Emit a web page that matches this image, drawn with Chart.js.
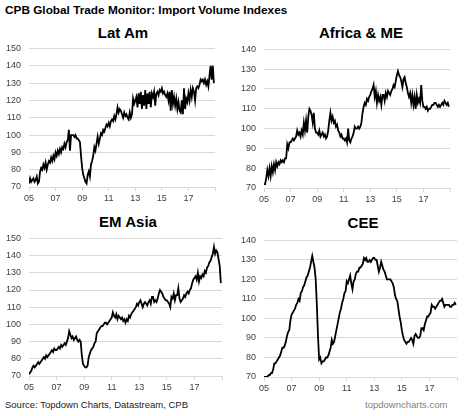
<!DOCTYPE html>
<html>
<head>
<meta charset="utf-8">
<script src="https://cdn.jsdelivr.net/npm/chart.js@4.4.0/dist/chart.umd.min.js"></script>
<style>
  body { margin: 0; background: #fff; font-family: "Liberation Sans", Arial, sans-serif; }
  #wrap { position: relative; width: 470px; height: 416px; overflow: hidden; background: #fff; }
  .box { position: absolute; }
  .ttl { position: absolute; width: 200px; text-align: center; font-weight: bold; font-size: 15px; line-height: 15px; color: #000; }
  #main { position: absolute; left: 5px; top: 4px; font-weight: bold; font-size: 11.8px; line-height: 12px; color: #000; white-space: nowrap; }
  .foot { position: absolute; top: 400px; font-size: 9.5px; line-height: 10px; white-space: nowrap; }
</style>
</head>
<body>
<div id="wrap">
  <div id="main">CPB Global Trade Monitor: Import Volume Indexes</div>

  <div class="ttl" style="left:23px; top:25px;">Lat Am</div>
  <div class="ttl" style="left:261px; top:25px;">Africa &amp; ME</div>
  <div class="ttl" style="left:28px; top:214px;">EM Asia</div>
  <div class="ttl" style="left:263px; top:215px;">CEE</div>

  <div class="box" style="left:0px; top:35px; width:225px; height:172px;"><canvas id="latAmChart"></canvas></div>
  <div class="box" style="left:235px; top:36px; width:225px; height:172px;"><canvas id="africaChart"></canvas></div>
  <div class="box" style="left:0px; top:225px; width:232px; height:171px;"><canvas id="asiaChart"></canvas></div>
  <div class="box" style="left:235px; top:227px; width:232px; height:170px;"><canvas id="ceeChart"></canvas></div>

  <div class="foot" style="left:5px; color:#222;">Source: Topdown Charts, Datastream, CPB</div>
  <div class="foot" style="left:365px; color:#7f7f7f;">topdowncharts.com</div>
</div>

<script>
// monthly data, Jan 2005 - Dec 2018
const startYear = 2005;
const xTickLabels = ["05", "07", "09", "11", "13", "15", "17", ""];

const latAm = [
  72, 75, 73, 74, 75, 73, 74, 76, 72, 73, 79, 81,
  80, 83, 81, 84, 80, 83, 85, 84, 87, 85, 88, 86,
  90, 88, 91, 89, 92, 90, 93, 92, 95, 93, 96, 97,
  103, 91, 100, 100, 100, 99, 100, 98, 98, 97, 96, 88,
  81, 77, 75, 73, 72, 77, 79, 76, 83, 85, 88, 93,
  91, 95, 99, 95, 98, 101, 100, 103, 102, 104, 106, 105,
  107, 105, 108, 109, 108, 111, 109, 112, 116, 113, 115, 114,
  112, 110, 113, 111, 112, 110, 109, 113, 110, 112, 121, 118,
  120, 122, 116, 124, 118, 125, 115, 123, 117, 126, 115, 124,
  118, 125, 116, 124, 122, 125, 117, 124, 125, 123, 126, 125,
  127, 124, 125, 123, 122, 124, 120, 125, 114, 126, 118, 122,
  117, 121, 115, 119, 114, 113, 120, 112, 127, 115, 121, 119,
  124, 120, 126, 122, 127, 125, 120, 127, 128, 127, 129, 132,
  131, 132, 130, 132, 129, 131, 128, 134, 140, 132, 140, 130
];

const africaME = [
  72, 72, 75, 79, 76, 80, 76, 81, 78, 82, 79, 83,
  81, 83, 82, 84, 83, 84, 83, 85, 85, 92, 90, 93,
  93, 94, 95, 94, 95, 96, 99, 97, 98, 96, 99, 97,
  103, 99, 104, 98, 106, 110, 109, 107, 103, 108, 100, 98,
  98, 97, 99, 96, 97, 98, 96, 97, 95, 96, 99, 104,
  108, 104, 106, 103, 104, 101, 102, 99, 98, 96, 97, 95,
  95, 94, 95, 93, 100, 94, 93, 95, 96, 98, 101, 100,
  100, 101, 100, 101, 103, 108, 111, 113, 112, 115, 114, 116,
  117, 119, 120, 122, 116, 119, 113, 117, 114, 116, 112, 117,
  117, 114, 118, 116, 119, 118, 117, 119, 120, 122, 121, 124,
  127, 129, 127, 126, 124, 121, 125, 126, 123, 121, 118, 116,
  118, 113, 117, 112, 116, 110, 117, 113, 115, 113, 122, 114,
  111, 111, 110, 111, 109, 110, 110, 111, 112, 112, 113, 113,
  112, 111, 112, 111, 112, 113, 112, 114, 113, 112, 113, 111
];

const emAsia = [
  71, 72, 73, 75, 76, 75, 76, 77, 78, 77, 78, 79,
  80, 81, 80, 82, 81, 82, 83, 84, 85, 84, 86, 85,
  85, 86, 87, 86, 88, 87, 88, 89, 88, 90, 92, 96,
  94, 92, 93, 91, 92, 93, 91, 90, 91, 90, 82, 77,
  76, 75, 75, 76, 81, 83, 85, 86, 87, 89, 90, 95,
  96, 97, 98, 99, 99, 100, 101, 101, 100, 101, 102, 103,
  104, 107, 105, 104, 106, 103, 105, 104, 103, 104, 102, 103,
  101, 103, 102, 105, 104, 106, 107, 108, 109, 110, 112, 111,
  113, 114, 112, 110, 112, 113, 112, 111, 113, 114, 112, 116,
  116, 113, 114, 113, 115, 118, 120, 119, 118, 116, 115, 114,
  114, 113, 112, 110, 116, 115, 118, 114, 117, 117, 121, 115,
  113, 114, 115, 117, 116, 118, 119, 118, 120, 121, 124, 126,
  127, 128, 126, 130, 125, 128, 127, 129, 128, 131, 130, 133,
  134, 136, 137, 139, 141, 145, 141, 143, 142, 138, 134, 124
];

const cee = [
  70, 70, 70, 70, 71, 71, 72, 72, 74, 77, 77, 78,
  79, 80, 81, 83, 85, 85, 86, 88, 91, 93, 94, 99,
  102, 103, 104, 105, 107, 108, 110, 109, 113, 114, 116, 117,
  119, 121, 122, 124, 126, 129, 132, 129, 126, 120, 107, 91,
  79, 80, 77, 78, 78, 79, 80, 80, 81, 83, 85, 89,
  87, 88, 91, 94, 97, 100, 103, 105, 108, 110, 113, 114,
  119, 118, 120, 122, 118, 115, 119, 120, 123, 124, 124, 126,
  126, 127, 128, 131, 130, 131, 129, 129, 130, 129, 130, 131,
  131, 130, 130, 127, 124, 126, 129, 127, 125, 124, 122, 120,
  120, 120, 120, 119, 118, 116, 112, 110, 109, 105, 101, 98,
  94, 91, 89, 88, 87, 88, 88, 89, 90, 89, 87, 91,
  92, 91, 90, 90, 91, 95, 95, 94, 97, 99, 101, 101,
  102, 103, 107, 106, 106, 105, 106, 107, 108, 109, 109, 110,
  108, 106, 107, 107, 107, 107, 106, 106, 107, 107, 108, 107
];

const months = latAm.map((v, i) => startYear + i / 12);

const gridGray = "#d9d9d9";
const tickColor = "#404040";
const tickFont = { family: "'Liberation Sans', Arial, sans-serif", size: 9 };

function makePanel(id, values, yMin, yMax) {

    const ctx = document.getElementById(id).getContext("2d");

    return new Chart(ctx, {

        type: "line",

        data: {
            datasets: [{
                data: values.map((v, i) => ({ x: months[i], y: v })),
                borderColor: "#000",
                borderWidth: 1.8,
                pointRadius: 0,
                tension: 0,
                fill: false
            }]
        },

        options: {
            responsive: true,
            maintainAspectRatio: false,
            animation: false,
            layout: { padding: { top: 8, right: 10, bottom: 0, left: 0 } },
            plugins: {
                legend: { display: false },
                tooltip: { enabled: false }
            },
            scales: {
                x: {
                    type: "linear",
                    min: startYear,
                    max: startYear + 14,
                    afterFit: scale => { scale.height = 20; },
                    ticks: {
                        stepSize: 2,
                        maxRotation: 0,
                        autoSkip: false,
                        padding: 2,
                        color: tickColor,
                        font: tickFont,
                        callback: v => xTickLabels[(v - startYear) / 2]
                    },
                    grid: {
                        drawOnChartArea: false,
                        drawTicks: true,
                        tickLength: 4,
                        color: gridGray
                    },
                    border: { display: true, color: gridGray }
                },
                y: {
                    min: yMin,
                    max: yMax,
                    afterFit: scale => { scale.width = 29; },
                    ticks: {
                        stepSize: 10,
                        padding: 8,
                        color: tickColor,
                        font: tickFont
                    },
                    grid: { color: gridGray, drawTicks: false },
                    border: { display: false }
                }
            }
        }
    });
}

makePanel("latAmChart", latAm, 70, 150);
makePanel("africaChart", africaME, 70, 140);
makePanel("asiaChart", emAsia, 70, 150);
makePanel("ceeChart", cee, 70, 140);
</script>
</body>
</html>
